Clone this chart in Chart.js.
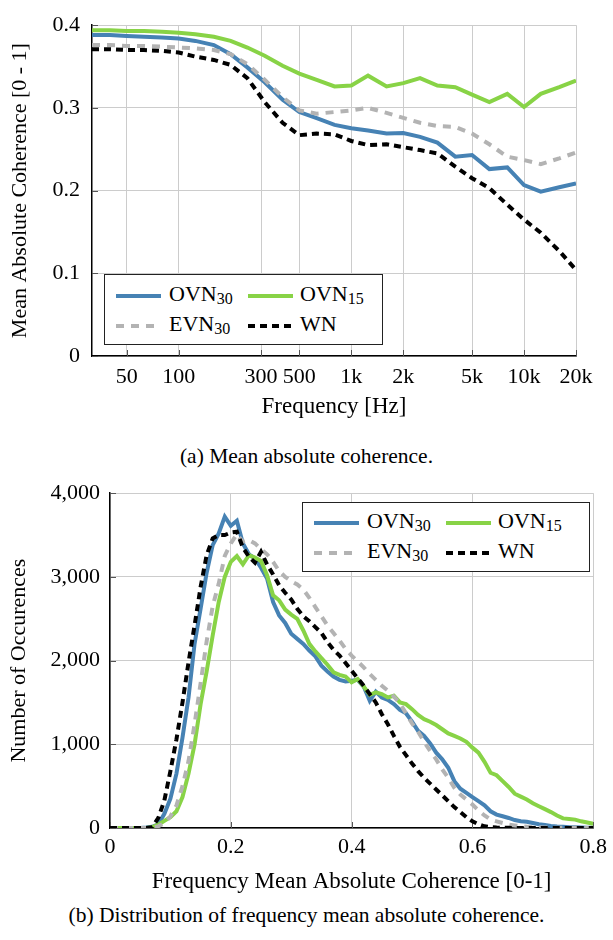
<!DOCTYPE html>
<html>
<head>
<meta charset="utf-8">
<script src="https://cdn.jsdelivr.net/npm/chart.js@4.4.1/dist/chart.umd.min.js"></script>
<style>
  body { margin: 0; width: 613px; height: 940px; background: #fff; position: relative; font-family: 'Liberation Serif', serif; color: #000; }
  .wrap { position: absolute; left: 0; }
  .legend { position: absolute; border: 1px solid #222; background: #fff; box-sizing: border-box; }
  .entry { position: absolute; height: 30px; display: flex; align-items: center; font-size: 22px; white-space: nowrap; }
  .entry sub { font-size: 16px; position: relative; top: 5px; vertical-align: baseline; }
  .caption { position: absolute; left: 0; width: 613px; text-align: center; font-size: 21.5px; }
</style>
</head>
<body>

<div class="wrap" style="top:0"><canvas id="topChart" width="613" height="430"></canvas></div>
<div class="legend" style="left:104px;top:274px;width:279px;height:71px">
  <div class="entry" style="left:11px;top:6px"><svg width="45" height="8"><line x1="0" y1="4" x2="45" y2="4" stroke="#4682b4" stroke-width="4"/></svg></div>
  <div class="entry" style="left:64px;top:4px">OVN<sub>30</sub></div>
  <div class="entry" style="left:143px;top:6px"><svg width="45" height="8"><line x1="0" y1="4" x2="45" y2="4" stroke="#88d346" stroke-width="4"/></svg></div>
  <div class="entry" style="left:195px;top:4px">OVN<sub>15</sub></div>
  <div class="entry" style="left:11px;top:36px"><svg width="45" height="8"><line x1="0" y1="4" x2="45" y2="4" stroke="#b3b3b3" stroke-width="4" stroke-dasharray="8 7"/></svg></div>
  <div class="entry" style="left:64px;top:34px">EVN<sub>30</sub></div>
  <div class="entry" style="left:143px;top:36px"><svg width="45" height="8"><line x1="0" y1="4" x2="45" y2="4" stroke="#000" stroke-width="4" stroke-dasharray="7 5"/></svg></div>
  <div class="entry" style="left:195px;top:34px">WN</div>
</div>
<div class="caption" style="top:444px">(a) Mean absolute coherence.</div>

<div class="wrap" style="top:470px"><canvas id="bottomChart" width="613" height="430"></canvas></div>
<div class="legend" style="left:302px;top:502px;width:288px;height:70px">
  <div class="entry" style="left:11px;top:5px"><svg width="45" height="8"><line x1="0" y1="4" x2="45" y2="4" stroke="#4682b4" stroke-width="4"/></svg></div>
  <div class="entry" style="left:64px;top:3px">OVN<sub>30</sub></div>
  <div class="entry" style="left:143px;top:5px"><svg width="45" height="8"><line x1="0" y1="4" x2="45" y2="4" stroke="#88d346" stroke-width="4"/></svg></div>
  <div class="entry" style="left:195px;top:3px">OVN<sub>15</sub></div>
  <div class="entry" style="left:11px;top:35px"><svg width="45" height="8"><line x1="0" y1="4" x2="45" y2="4" stroke="#b3b3b3" stroke-width="4" stroke-dasharray="8 7"/></svg></div>
  <div class="entry" style="left:64px;top:33px">EVN<sub>30</sub></div>
  <div class="entry" style="left:143px;top:35px"><svg width="45" height="8"><line x1="0" y1="4" x2="45" y2="4" stroke="#000" stroke-width="4" stroke-dasharray="7 5"/></svg></div>
  <div class="entry" style="left:195px;top:33px">WN</div>
</div>
<div class="caption" style="top:903px">(b) Distribution of frequency mean absolute coherence.</div>

<script>
// (a) third-octave band centres [Hz] and mean absolute coherence
const freqs = [31.5, 40, 50, 63, 80, 100, 125, 160, 200, 250, 315, 400, 500, 630, 800, 1000, 1250, 1600, 2000, 2500, 3150, 4000, 5000, 6300, 8000, 10000, 12500, 16000, 20000];
const ovn30Coh = [0.388, 0.388, 0.387, 0.386, 0.385, 0.384, 0.381, 0.376, 0.365, 0.349, 0.331, 0.310, 0.295, 0.2875, 0.2795, 0.2755, 0.2727, 0.269, 0.2696, 0.265, 0.258, 0.241, 0.243, 0.226, 0.228, 0.2066, 0.1987, 0.204, 0.2086];
const ovn15Coh = [0.394, 0.394, 0.393, 0.393, 0.392, 0.391, 0.389, 0.386, 0.381, 0.373, 0.363, 0.351, 0.3415, 0.334, 0.326, 0.327, 0.339, 0.326, 0.330, 0.336, 0.327, 0.325, 0.316, 0.307, 0.317, 0.301, 0.317, 0.325, 0.333];
const evn30Coh = [0.376, 0.376, 0.375, 0.375, 0.374, 0.373, 0.372, 0.370, 0.365, 0.353, 0.334, 0.313, 0.297, 0.293, 0.295, 0.297, 0.300, 0.294, 0.288, 0.282, 0.278, 0.277, 0.269, 0.256, 0.241, 0.237, 0.232, 0.239, 0.246];
const wnCoh = [0.371, 0.371, 0.370, 0.370, 0.369, 0.367, 0.362, 0.358, 0.352, 0.336, 0.307, 0.282, 0.267, 0.269, 0.268, 0.260, 0.255, 0.256, 0.2525, 0.249, 0.245, 0.229, 0.215, 0.203, 0.183, 0.165, 0.149, 0.127, 0.104];
const freqTicks = [50, 100, 300, 500, 1000, 2000, 5000, 10000, 20000];
const freqTickLabels = ['50', '100', '300', '500', '1k', '2k', '5k', '10k', '20k'];
const cohTicks = [0, 0.1, 0.2, 0.3, 0.4];

// (b) histogram of frequency mean absolute coherence
const bins = [0, 0.01, 0.02, 0.03, 0.04, 0.05, 0.06, 0.07, 0.08, 0.09,
  0.1, 0.11, 0.12, 0.13, 0.14, 0.15, 0.16, 0.17, 0.18, 0.19,
  0.2, 0.21, 0.22, 0.23, 0.24, 0.25, 0.26, 0.27, 0.28, 0.29,
  0.3, 0.31, 0.32, 0.33, 0.34, 0.35, 0.36, 0.37, 0.38, 0.39,
  0.4, 0.41, 0.42, 0.43, 0.44, 0.45, 0.46, 0.47, 0.48, 0.49,
  0.5, 0.51, 0.52, 0.53, 0.54, 0.55, 0.56, 0.57, 0.58, 0.59,
  0.6, 0.61, 0.62, 0.63, 0.64, 0.65, 0.66, 0.67, 0.68, 0.69,
  0.7, 0.71, 0.72, 0.73, 0.74, 0.75, 0.76, 0.77, 0.78, 0.79, 0.8];
const ovn30Count = [0, 0, 0, 0, 0, 0, 5, 15, 45, 170,
  350, 650, 1080, 1560, 2200, 2620, 3050, 3380, 3520, 3720,
  3610, 3670, 3400, 3270, 3220, 3110, 2980, 2700, 2540, 2450,
  2320, 2260, 2200, 2120, 2050, 1940, 1870, 1810, 1770, 1750,
  1760, 1770, 1690, 1520, 1630, 1560, 1530, 1480, 1410, 1370,
  1270, 1160, 1100, 1010, 900, 820, 720, 560, 470, 420,
  370, 320, 270, 200, 160, 140, 120, 95, 80, 75,
  60, 45, 35, 25, 18, 14, 10, 8, 6, 4, 3];
const ovn15Count = [0, 0, 0, 0, 0, 0, 0, 10, 40, 85,
  130, 200, 370, 650, 1000, 1480, 1870, 2300, 2700, 3000,
  3180, 3250, 3150, 3260, 3230, 3190, 3020, 2780, 2720, 2610,
  2550, 2500, 2360, 2200, 2110, 2030, 1950, 1860, 1830, 1810,
  1740, 1780, 1690, 1590, 1620, 1600, 1560, 1580, 1500, 1480,
  1420, 1350, 1300, 1270, 1230, 1180, 1130, 1100, 1070, 1030,
  960, 900, 790, 660, 630, 560, 490, 410, 375, 340,
  295, 260, 225, 190, 150, 115, 108, 100, 80, 65, 50];
const evn30Count = [0, 0, 0, 0, 0, 0, 0, 0, 20, 60,
  140, 270, 500, 800, 1240, 1730, 2230, 2650, 2920, 3250,
  3400, 3510, 3420, 3440, 3400, 3330, 3270, 3180, 3070, 3000,
  2950, 2910, 2850, 2750, 2640, 2530, 2420, 2330, 2240, 2140,
  2060, 1990, 1920, 1840, 1770, 1700, 1640, 1570, 1490, 1370,
  1250, 1150, 1030, 920, 820, 700, 600, 480, 400, 340,
  280, 210, 150, 100, 80, 60, 40, 30, 20, 15,
  10, 8, 6, 5, 4, 3, 3, 2, 2, 1, 1];
const wnCount = [0, 0, 0, 0, 0, 0, 0, 10, 120, 330,
  680, 1060, 1500, 1980, 2420, 2880, 3260, 3460, 3500, 3500,
  3530, 3540, 3350, 3240, 3170, 3300, 3150, 3030, 2900, 2810,
  2730, 2620, 2530, 2470, 2400, 2330, 2220, 2130, 2060, 1970,
  1880, 1790, 1700, 1600, 1500, 1360, 1240, 1100, 970, 870,
  770, 680, 600, 530, 460, 390, 320, 250, 190, 130,
  80, 45, 20, 10, 5, 3, 2, 1, 1, 0,
  0, 0, 0, 0, 0, 0, 0, 0, 0, 0, 0];
const countTicks = [0, 1000, 2000, 3000, 4000];
const binTicks = [0, 0.2, 0.4, 0.6, 0.8];

const serif = "'Liberation Serif', 'Times New Roman', serif";
const gridColor = '#cccccc';
Chart.defaults.font.family = serif;
Chart.defaults.color = '#000';

function pairs(xs, ys) {
  return xs.map((x, i) => ({ x: x, y: ys[i] }));
}

function lineSets(xs, a, b, c, d) {
  return [
    { label: 'OVN30', data: pairs(xs, a), borderColor: '#4682b4', borderWidth: 4, order: 4 },
    { label: 'OVN15', data: pairs(xs, b), borderColor: '#88d346', borderWidth: 4, order: 3 },
    { label: 'EVN30', data: pairs(xs, c), borderColor: '#b3b3b3', borderWidth: 4, borderDash: [8, 7], order: 2 },
    { label: 'WN', data: pairs(xs, d), borderColor: '#000000', borderWidth: 4, borderDash: [7, 5], order: 1 }
  ];
}

// short inward tick marks on the left and bottom axes, like pgfplots
const innerTicks = {
  id: 'innerTicks',
  beforeDatasetsDraw(chart) {
    const { ctx, chartArea, scales } = chart;
    ctx.save();
    ctx.strokeStyle = '#555';
    ctx.lineWidth = 1;
    ctx.beginPath();
    scales.y.ticks.forEach(t => {
      const py = Math.round(scales.y.getPixelForValue(t.value)) + 0.5;
      ctx.moveTo(chartArea.left, py);
      ctx.lineTo(chartArea.left + 6, py);
    });
    scales.x.ticks.forEach(t => {
      const px = Math.round(scales.x.getPixelForValue(t.value)) + 0.5;
      ctx.moveTo(px, chartArea.bottom);
      ctx.lineTo(px, chartArea.bottom - 6);
    });
    ctx.stroke();
    ctx.restore();
  }
};

function baseOptions(pad) {
  return {
    responsive: false,
    animation: false,
    devicePixelRatio: 1,
    layout: { padding: pad },
    elements: { point: { radius: 0 }, line: { tension: 0, fill: false } },
    plugins: { legend: { display: false }, tooltip: { enabled: false } }
  };
}

function ctxFor(id) {
  return document.getElementById(id).getContext('2d', { willReadFrequently: true });
}

const topOpts = baseOptions({ top: 17, right: 37, bottom: 0, left: 0 });
topOpts.scales = {
  x: {
    type: 'logarithmic',
    min: 31.5, max: 20000,
    afterBuildTicks: s => { s.ticks = freqTicks.map(v => ({ value: v })); },
    afterFit: s => { s.height = 74; },
    grid: { color: gridColor, drawTicks: false },
    border: { color: '#000', width: 1.5 },
    ticks: { autoSkip: false, maxRotation: 0, padding: 8, font: { family: serif, size: 22 },
      callback: (v, i) => freqTickLabels[i] },
    title: { display: true, text: 'Frequency [Hz]', font: { family: serif, size: 23 }, padding: { top: 0, bottom: 9 } }
  },
  y: {
    min: 0, max: 0.4,
    afterBuildTicks: s => { s.ticks = cohTicks.map(v => ({ value: v })); },
    afterFit: s => { s.width = 92; },
    grid: { color: gridColor, drawTicks: false },
    border: { color: '#000', width: 1.5 },
    ticks: { padding: 12, font: { family: serif, size: 22 },
      callback: v => (v === 0 ? '0' : v.toFixed(1)) },
    title: { display: true, text: 'Mean Absolute Coherence [0 - 1]', font: { family: serif, size: 22 }, padding: { top: 7, bottom: 0 } }
  }
};

const bottomOpts = baseOptions({ top: 21, right: 16, bottom: 0, left: 0 });
bottomOpts.scales = {
  x: {
    type: 'linear',
    min: 0, max: 0.8,
    afterBuildTicks: s => { s.ticks = binTicks.map(v => ({ value: v })); },
    afterFit: s => { s.height = 72; },
    grid: { color: gridColor, drawTicks: false },
    border: { color: '#000', width: 1.5 },
    ticks: { autoSkip: false, maxRotation: 0, padding: 6, font: { family: serif, size: 22 },
      callback: v => (v === 0 ? '0' : v.toFixed(1)) },
    title: { display: true, text: 'Frequency Mean Absolute Coherence [0-1]', font: { family: serif, size: 23 }, padding: { top: 0, bottom: 4 } }
  },
  y: {
    min: 0, max: 4000,
    afterBuildTicks: s => { s.ticks = countTicks.map(v => ({ value: v })); },
    afterFit: s => { s.width = 110; },
    grid: { color: gridColor, drawTicks: false },
    border: { color: '#000', width: 1.5 },
    ticks: { padding: 10, font: { family: serif, size: 22 },
      callback: v => v.toLocaleString('en-US') },
    title: { display: true, text: 'Number of Occurences', font: { family: serif, size: 22 }, padding: { top: 6, bottom: 0 } }
  }
};

new Chart(ctxFor('topChart'), {
  type: 'line',
  data: { datasets: lineSets(freqs, ovn30Coh, ovn15Coh, evn30Coh, wnCoh) },
  options: topOpts,
  plugins: [innerTicks]
});

new Chart(ctxFor('bottomChart'), {
  type: 'line',
  data: { datasets: lineSets(bins, ovn30Count, ovn15Count, evn30Count, wnCount) },
  options: bottomOpts,
  plugins: [innerTicks]
});
</script>
</body>
</html>
